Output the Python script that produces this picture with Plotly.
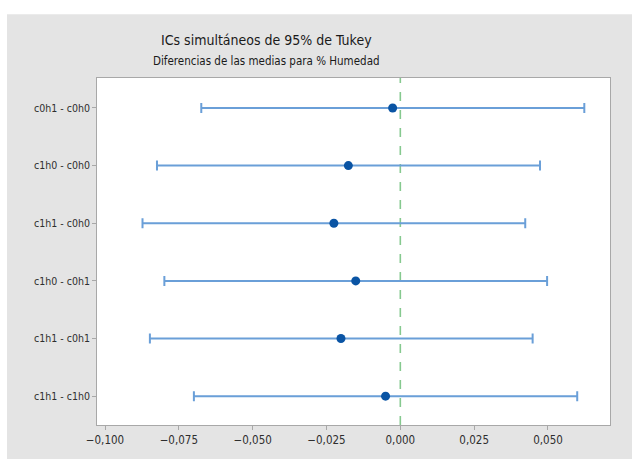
import plotly.graph_objects as go

# Tukey pairwise comparisons for % Humedad
comparisons = ["c0h1 - c0h0", "c1h0 - c0h0", "c1h1 - c0h0",
               "c1h0 - c0h1", "c1h1 - c0h1", "c1h1 - c1h0"]
mean_diff = [-0.0026, -0.0176, -0.0225, -0.0151, -0.0201, -0.0050]
lower_ci = [-0.0674, -0.0824, -0.0873, -0.0799, -0.0848, -0.0699]
upper_ci = [0.0623, 0.0473, 0.0423, 0.0497, 0.0448, 0.0599]
x_ticks = [-0.100, -0.075, -0.050, -0.025, 0.000, 0.025, 0.050]

title_text = "ICs simultáneos de 95% de Tukey"
subtitle_text = "Diferencias de las medias para % Humedad"

FONT = "DejaVu Sans Condensed, Liberation Sans Narrow, Roboto, sans-serif"
PANEL = "#e4e4e4"
AXIS = "#a8a8a8"

err_plus = [u - m for u, m in zip(upper_ci, mean_diff)]
err_minus = [m - l for m, l in zip(mean_diff, lower_ci)]

fig = go.Figure()
fig.add_trace(go.Scatter(
    x=mean_diff, y=comparisons, mode="markers",
    marker=dict(color="#0a54a4", size=9, symbol="circle"),
    error_x=dict(type="data", symmetric=False, array=err_plus,
                 arrayminus=err_minus, color="#6a9fd8", thickness=2, width=5),
    showlegend=False, hoverinfo="x+y",
))

# reference line at zero difference
fig.add_shape(type="line", xref="x", yref="paper", x0=0, x1=0, y0=0, y1=1,
              line=dict(color="#86c98f", width=1.6, dash="dash"), layer="below")

# white page strips around the grey panel
fig.add_shape(type="rect", xref="paper", yref="paper",
              x0=-0.3, x1=1.1, y0=1 + 64 / 349, y1=1.4,
              fillcolor="white", line_width=0, layer="above")
fig.add_shape(type="rect", xref="paper", yref="paper",
              x0=-0.3, x1=-90 / 513, y0=-0.2, y1=1.4,
              fillcolor="white", line_width=0, layer="above")

fig.add_annotation(text=title_text, xref="paper", yref="paper",
                   x=(266 - 97) / 513, y=1 + 38 / 349, xanchor="center",
                   yanchor="middle", showarrow=False,
                   font=dict(family=FONT, size=14, color="#1a1a1a"))
fig.add_annotation(text=subtitle_text, xref="paper", yref="paper",
                   x=(266 - 97) / 513, y=1 + 17 / 349, xanchor="center",
                   yanchor="middle", showarrow=False,
                   font=dict(family=FONT, size=11.5, color="#1a1a1a"))

fig.update_layout(
    width=632, height=459,
    margin=dict(l=97, r=22, t=78, b=32),
    paper_bgcolor=PANEL, plot_bgcolor="white",
    separators=",.",
    font=dict(family=FONT, size=12, color="#2e2e2e"),
    xaxis=dict(range=[-0.10271, 0.0710], tickvals=x_ticks, tickformat=".3f",
               showgrid=False, zeroline=False, showline=True, mirror=True,
               linecolor=AXIS, linewidth=1, ticks="outside", ticklen=4,
               tickcolor=AXIS, tickfont=dict(size=11.5)),
    yaxis=dict(type="category", categoryorder="array", categoryarray=comparisons,
               range=[5.5, -0.52], showgrid=False, zeroline=False,
               showline=True, mirror=True, linecolor=AXIS, linewidth=1,
               ticks="outside", ticklen=4, tickcolor=AXIS,
               tickfont=dict(size=10.5)),
)

fig.write_html("out.html")
